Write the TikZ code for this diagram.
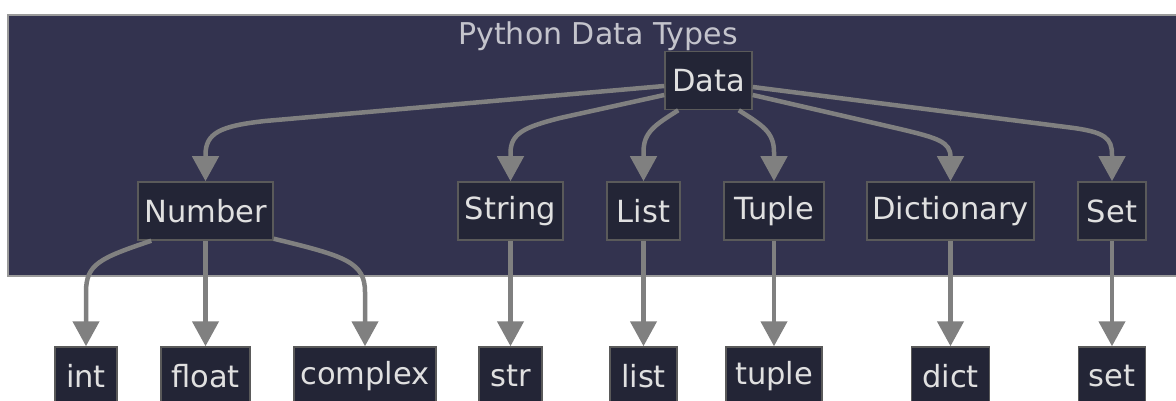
\documentclass[tikz,border=0pt]{standalone}
\usepackage{fontspec}
\setmainfont{DejaVu Sans}
\usetikzlibrary{arrows.meta,calc}
\definecolor{clfill}{HTML}{33334F}
\definecolor{clline}{HTML}{9A9A9A}
\definecolor{nfill}{HTML}{232536}
\definecolor{nline}{HTML}{5A5A5A}
\definecolor{ntext}{HTML}{E0E0E0}
\definecolor{ttext}{HTML}{C4C4CC}
\definecolor{edge}{HTML}{808080}
\begin{document}
\begin{tikzpicture}[x=1pt,y=-1pt,
  box/.style={draw=nline,fill=nfill,line width=1.5pt,text=ntext,inner sep=0pt,
    minimum height=58pt,font=\fontsize{30.5}{36}\selectfont},
  arr/.style={draw=edge,line width=4.5pt,-{Triangle[length=25pt 0 0,width=26pt 0 0]}}]
\useasboundingbox (0,0) rectangle (1176,401);
\fill[white] (0,0) rectangle (1176,401);
\draw[fill=clfill,draw=clline,line width=1.5pt] (8,15) rectangle (1190,276);
\node[text=ttext,font=\fontsize{30}{36}\selectfont] (title) at (598,36) {Python Data Types};
% nodes
\node[box,minimum width=87pt] (data) at (708.5,80.5) {Data};
\node[box,minimum width=135pt] (number) at (205.5,211) {Number};
\node[box,minimum width=105pt] (string) at (510.5,211) {String};
\node[box,minimum width=73pt] (list) at (643.5,211) {List};
\node[box,minimum width=100pt] (tuple) at (774,211) {Tuple};
\node[box,minimum width=167pt] (dictionary) at (950.5,211) {Dictionary};
\node[box,minimum width=68pt] (set) at (1112,211) {Set};
\node[box,minimum width=62pt] (int) at (86,376) {int};
\node[box,minimum width=89pt] (float) at (205.5,376) {float};
\node[box,minimum width=142pt] (complex) at (365,376) {complex};
\node[box,minimum width=63pt] (str) at (510.5,376) {str};
\node[box,minimum width=67pt] (listv) at (643.5,376) {list};
\node[box,minimum width=96pt] (tuplev) at (774,376) {tuple};
\node[box,minimum width=78pt] (dict) at (950.5,376) {dict};
\node[box,minimum width=67pt] (setv) at (1112,376) {set};
% Data edges
\draw[arr] ($(data.west)+(0,5.5)$) -- (265,121) .. controls (220,126) and (205.5,133) .. (205.5,155) -- (number.north);
\draw[arr] ($(data.west)+(0,14.5)$) -- (560,118) .. controls (525,127) and (510.5,133) .. (510.5,153) -- (string.north);
\draw[arr] ($(data.south west)+(14,0)$) .. controls (655,125) and (643.5,132) .. (643.5,152) -- (list.north);
\draw[arr] ($(data.south east)+(-14,0)$) .. controls (762,125) and (774,132) .. (774,152) -- (tuple.north);
\draw[arr] ($(data.east)+(0,14.5)$) -- (900,129) .. controls (938,138) and (950.5,142) .. (950.5,157) -- (dictionary.north);
\draw[arr] ($(data.east)+(0,6.5)$) -- (1070,127.5) .. controls (1105,132) and (1112,138) .. (1112,155) -- (set.north);
% Number edges
\draw[arr] ($(number.south west)+(14,0)$) .. controls (100,258) and (86,264) .. (86,292) -- (int.north);
\draw[arr] (number.south) -- (float.north);
\draw[arr] ($(number.south east)+(0,-2)$) .. controls (345,256) and (365,262) .. (365,292) -- (complex.north);
\draw[arr] (string.south) -- (str.north);
\draw[arr] (list.south) -- (listv.north);
\draw[arr] (tuple.south) -- (tuplev.north);
\draw[arr] (dictionary.south) -- (dict.north);
\draw[arr] (set.south) -- (setv.north);
\end{tikzpicture}
\end{document}
